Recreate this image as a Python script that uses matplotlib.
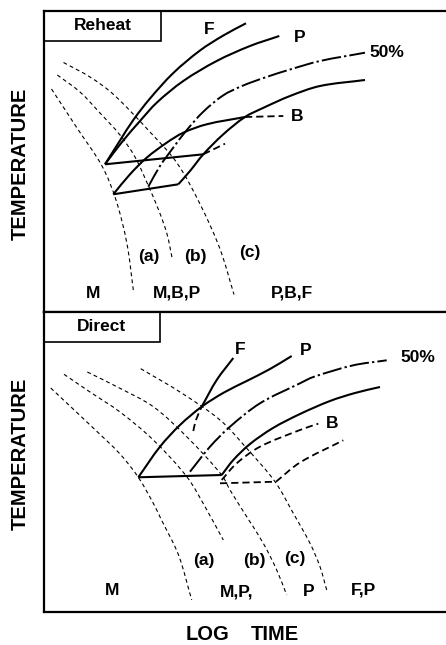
import numpy as np
import matplotlib
matplotlib.use("Agg")
import matplotlib.pyplot as plt
from matplotlib.path import Path
from matplotlib.patches import PathPatch, Rectangle

plt.rcParams['font.family'] = ['Liberation Sans', 'DejaVu Sans']
plt.rcParams['font.weight'] = 'bold'

# ---------------- data (log time, temperature; arbitrary schematic units) ----------------
# Reheat panel
reheat_F_t = [61, 76, 89.3, 106, 129.3, 156, 179.3, 202]
reheat_F_T = [147.7, 171.5, 192, 213.5, 239, 261.5, 276.5, 288.7]
reheat_P_t = [61, 78, 96, 112.7, 139.3, 172.7, 206, 235.3]
reheat_P_T = [147.7, 170, 191, 209.3, 231, 251, 266, 276]
reheat_50_t = [104.3, 116, 129, 142, 159, 179, 198, 221, 246, 276, 321]
reheat_50_T = [125.3, 146, 164, 181, 200, 216.5, 226, 234.5, 242.5, 251, 259.3]
reheat_Bf_t = [134.3, 146, 159.3, 179.3, 201, 219, 246, 276, 321]
reheat_Bf_T = [127.7, 141, 157.7, 177.7, 195, 204, 216, 226, 232]
reheat_Bs_t = [69.3, 86, 102.7, 122.7, 139.3, 162.7, 201]
reheat_Bs_T = [117.7, 137.7, 154.3, 169.3, 179.3, 187.7, 195]
reheat_Bdash_t = [201, 239.3]
reheat_Bdash_T = [195, 196]
reheat_Cdash_t = [159.3, 181]
reheat_Cdash_T = [157.7, 168.3]
reheat_upper_t = [61, 159.3]
reheat_upper_T = [147.7, 157.7]
reheat_lower_t = [69.3, 134.3]
reheat_lower_T = [117.7, 127.7]
reheat_cool_a_t = [7.5, 33, 58, 72, 83, 89.3]
reheat_cool_a_T = [223, 184, 146, 112, 68, 22]
reheat_cool_b_t = [13.3, 36, 56, 76, 91, 104, 115, 123, 128.5]
reheat_cool_b_T = [237, 220, 199, 177, 155, 127, 101, 78, 52]
reheat_cool_c_t = [19.5, 46, 69, 106, 133, 156, 176, 190]
reheat_cool_c_T = [249.5, 235, 218, 180, 149, 108, 63, 17.5]

# Direct panel
direct_P_t = [94.3, 116, 136, 157.7, 180, 202.7, 226, 247.7]
direct_P_T = [134.7, 165.3, 187, 205.3, 219.5, 231, 243, 256]
direct_F_t = [157.7, 172.7, 189.3]
direct_F_T = [205.3, 232, 254]
direct_Fdash_t = [149.3, 152, 157.7]
direct_Fdash_T = [181, 192, 205.3]
direct_50_t = [146, 166, 186, 216, 256, 269.3, 309.3, 342.7]
direct_50_T = [140.3, 165.3, 185.3, 208.7, 228.7, 235, 246.7, 251.7]
direct_fin_t = [177.7, 189.3, 206, 229, 256, 286, 311, 336]
direct_fin_T = [137, 152, 168, 184, 198, 211, 219, 225]
direct_B_t = [177.7, 192.7, 216, 256, 274.3]
direct_B_T = [132, 148.7, 165.3, 182, 188.3]
direct_low_t = [176, 232]
direct_low_T = [128.7, 130.3]
direct_rise_t = [232, 256, 299.3]
direct_rise_T = [130.3, 149.5, 171.7]
direct_start_t = [94.3, 177.7]
direct_start_T = [134.7, 137]
direct_cool1_t = [6.7, 50, 76, 94.3, 109.3, 117, 134.5, 147.7]
direct_cool1_T = [224, 183.3, 158, 134.7, 108.7, 93, 57, 12]
direct_cool2_t = [20, 46, 76, 109.3, 143, 161, 179.3]
direct_cool2_T = [237.7, 220, 200, 172, 135, 105.3, 72]
direct_cool3_t = [43.3, 76, 109.3, 142.7, 177.7, 186, 202.7, 219.3, 232.7, 242.7]
direct_cool3_T = [240, 223.7, 205.3, 175.3, 137, 122, 95.3, 68.7, 42, 17]
direct_cool4_t = [96.7, 136, 176, 202.7, 231, 249.3, 266, 276, 282.7]
direct_cool4_T = [243.3, 220, 192, 163.7, 130.3, 98.7, 68.7, 45.3, 22]

reheat_labels = ["F", "P", "50%", "B", "(a)", "(b)", "(c)", "M", "M,B,P", "P,B,F"]
reheat_label_t = [165.3, 255.3, 342.7, 253.2, 105, 151, 206, 48.7, 132.7, 248.3]
reheat_label_T = [282.7, 274.7, 259.7, 195.7, 56, 56, 59.3, 18, 18.7, 18.7]
direct_labels = ["F", "P", "50%", "B", "(a)", "(b)", "(c)", "M", "M,P,", "P", "F,P"]
direct_label_t = [196, 262, 374.3, 287.7, 160, 210, 251, 68.3, 192.7, 264.3, 319.3]
direct_label_T = [262.7, 261.7, 254, 189, 51.7, 51.7, 53.3, 21.7, 20, 20.7, 21.7]

panel_titles = ["Reheat", "Direct"]
y_label = "TEMPERATURE"
x_label_words = ["LOG", "TIME"]


# ---------------- drawing helpers ----------------
def _unit(v):
    n = np.hypot(*v)
    return v / n if n > 0 else v


def smooth(ax, t, T, lw, dashes=None):
    """Smooth curve through the read points (Bezier path drawn by matplotlib)."""
    pts = np.column_stack([t, T]).astype(float)
    n = len(pts)
    verts = [pts[0]]
    codes = [Path.MOVETO]
    if n == 2:
        verts.append(pts[1])
        codes.append(Path.LINETO)
    else:
        tang = []
        for i in range(n):
            if i == 0:
                tang.append(_unit(pts[1] - pts[0]))
            elif i == n - 1:
                tang.append(_unit(pts[-1] - pts[-2]))
            else:
                tang.append(_unit(pts[i + 1] - pts[i - 1]))
        for i in range(n - 1):
            d = np.hypot(*(pts[i + 1] - pts[i])) / 3.0
            verts += [pts[i] + tang[i] * d, pts[i + 1] - tang[i + 1] * d, pts[i + 1]]
            codes += [Path.CURVE4] * 3
    ls = '-' if dashes is None else (0, dashes)
    patch = PathPatch(Path(verts, codes), fill=False, lw=lw, ls=ls,
                      edgecolor='black', capstyle='butt', joinstyle='round')
    ax.add_patch(patch)


W, H = 446, 645
fig = plt.figure(figsize=(W / 100, H / 100), dpi=100)

ax_top = fig.add_axes([44 / W, 1 - 312 / H, (W - 44) / W, 301 / H])
ax_bot = fig.add_axes([44 / W, 1 - 612 / H, (W - 44) / W, 300 / H])

for ax, ymax in ((ax_top, 301), (ax_bot, 300)):
    ax.set_xlim(0, W - 44)
    ax.set_ylim(0, ymax)
    ax.set_xticks([])
    ax.set_yticks([])
    ax.spines['right'].set_visible(False)
    for s in ('left', 'top', 'bottom'):
        ax.spines[s].set_linewidth(1.6)

SOLID = 1.5
THIN = 0.8
COOL = (3.5, 2.8)
DASHDOT = (10, 1.6, 1.2, 1.6)
MED = (4.0, 2.2)

# ---- Reheat panel ----
ax = ax_top
for t, T in ((reheat_cool_a_t, reheat_cool_a_T), (reheat_cool_b_t, reheat_cool_b_T),
             (reheat_cool_c_t, reheat_cool_c_T)):
    smooth(ax, t, T, THIN, COOL)
smooth(ax, reheat_F_t, reheat_F_T, SOLID)
smooth(ax, reheat_P_t, reheat_P_T, SOLID)
smooth(ax, reheat_50_t, reheat_50_T, 1.4, DASHDOT)
smooth(ax, reheat_Bf_t, reheat_Bf_T, SOLID)
smooth(ax, reheat_Bs_t, reheat_Bs_T, SOLID)
smooth(ax, reheat_Bdash_t, reheat_Bdash_T, 1.3, MED)
smooth(ax, reheat_Cdash_t, reheat_Cdash_T, 1.3, MED)
smooth(ax, reheat_upper_t, reheat_upper_T, SOLID)
smooth(ax, reheat_lower_t, reheat_lower_T, SOLID)

# ---- Direct panel ----
ax = ax_bot
for t, T in ((direct_cool1_t, direct_cool1_T), (direct_cool2_t, direct_cool2_T),
             (direct_cool3_t, direct_cool3_T), (direct_cool4_t, direct_cool4_T)):
    smooth(ax, t, T, THIN, COOL)
smooth(ax, direct_P_t, direct_P_T, SOLID)
smooth(ax, direct_F_t, direct_F_T, SOLID)
smooth(ax, direct_Fdash_t, direct_Fdash_T, 1.3, MED)
smooth(ax, direct_50_t, direct_50_T, 1.4, DASHDOT)
smooth(ax, direct_fin_t, direct_fin_T, SOLID)
smooth(ax, direct_B_t, direct_B_T, 1.3, MED)
smooth(ax, direct_low_t, direct_low_T, 1.3, MED)
smooth(ax, direct_rise_t, direct_rise_T, 1.3, MED)
smooth(ax, direct_start_t, direct_start_T, SOLID)

# ---- labels ----
LFS = 12.5
for lab, t, T in zip(reheat_labels, reheat_label_t, reheat_label_T):
    ax_top.text(t, T, lab, ha='center', va='center', fontsize=LFS, fontweight='bold')
for lab, t, T in zip(direct_labels, direct_label_t, direct_label_T):
    ax_bot.text(t, T, lab, ha='center', va='center', fontsize=LFS, fontweight='bold')

# title boxes
for ax, title, ymax, bw in ((ax_top, panel_titles[0], 301, 117), (ax_bot, panel_titles[1], 300, 116)):
    ax.add_patch(Rectangle((0, ymax - 29.5), bw, 29.5, fill=False, lw=1.2, edgecolor='black'))
    ax.text(bw / 2, ymax - 14.5, title, ha='center', va='center', fontsize=LFS, fontweight='bold')

# axis titles
fig.text(20 / W, 1 - 164 / H, y_label, rotation=90, ha='center', va='center',
         fontsize=14.5, fontweight='bold')
fig.text(20 / W, 1 - 454 / H, y_label, rotation=90, ha='center', va='center',
         fontsize=14.5, fontweight='bold')
fig.text(207.5 / W, 1 - 635 / H, x_label_words[0], ha='center', va='center',
         fontsize=14.5, fontweight='bold')
fig.text(275 / W, 1 - 635 / H, x_label_words[1], ha='center', va='center',
         fontsize=14.5, fontweight='bold')

fig.savefig("out.png", dpi=100)
